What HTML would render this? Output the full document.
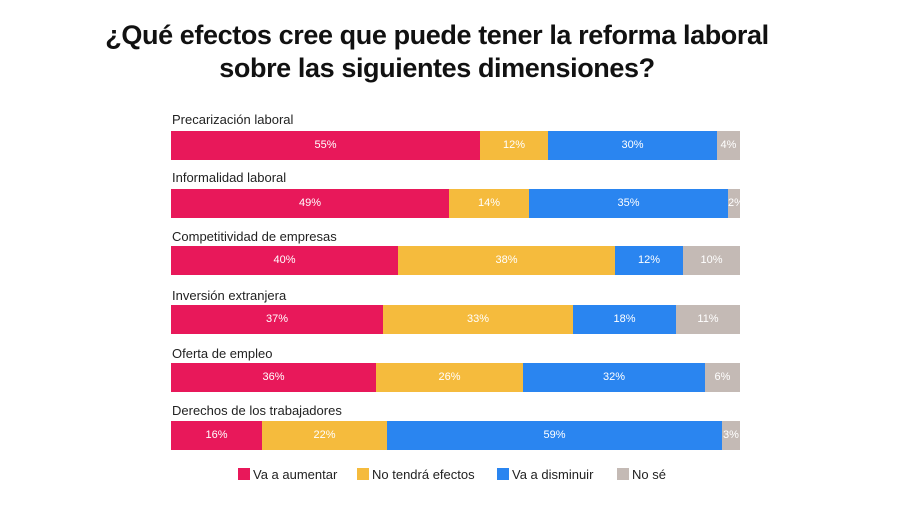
<!DOCTYPE html>
<html><head><meta charset="utf-8"><style>
body{margin:0;width:900px;height:505px;background:#fff;font-family:"Liberation Sans",sans-serif;position:relative;overflow:hidden}
.t{position:absolute;left:0;width:874px;text-align:center;font-weight:bold;font-size:27px;color:#111;letter-spacing:-0.4px}
.l{position:absolute;left:172px;font-size:13px;color:#222}
.b{position:absolute;left:171px;width:569px;height:29px}
.s{position:absolute;top:0;height:29px;color:#fff;font-size:11px;line-height:29px;text-align:center;overflow:hidden;white-space:nowrap}
.p{background:#e8185a}.y{background:#f5bb3d}.u{background:#2a85f0}.g{background:#c4bab5}
.lg{position:absolute;top:467px;font-size:13px;color:#222}
.lg i{display:inline-block;width:12px;height:12px;vertical-align:-1px;margin-right:3px}
</style></head><body>
<div class="t" style="top:20px">¿Qué efectos cree que puede tener la reforma laboral</div>
<div class="t" style="top:53px">sobre las siguientes dimensiones?</div>

<div class="l" style="top:112px">Precarización laboral</div>
<div class="b" style="top:131px">
<div class="s p" style="left:0;width:309px">55%</div><div class="s y" style="left:309px;width:68px">12%</div><div class="s u" style="left:377px;width:169px">30%</div><div class="s g" style="left:546px;width:23px">4%</div></div>

<div class="l" style="top:170px">Informalidad laboral</div>
<div class="b" style="top:189px">
<div class="s p" style="left:0;width:278px">49%</div><div class="s y" style="left:278px;width:80px">14%</div><div class="s u" style="left:358px;width:199px">35%</div><div class="s g" style="left:557px;width:12px">2%</div></div>

<div class="l" style="top:229px">Competitividad de empresas</div>
<div class="b" style="top:246px">
<div class="s p" style="left:0;width:227px">40%</div><div class="s y" style="left:227px;width:217px">38%</div><div class="s u" style="left:444px;width:68px">12%</div><div class="s g" style="left:512px;width:57px">10%</div></div>

<div class="l" style="top:288px">Inversión extranjera</div>
<div class="b" style="top:305px">
<div class="s p" style="left:0;width:212px">37%</div><div class="s y" style="left:212px;width:190px">33%</div><div class="s u" style="left:402px;width:103px">18%</div><div class="s g" style="left:505px;width:64px">11%</div></div>

<div class="l" style="top:346px">Oferta de empleo</div>
<div class="b" style="top:363px">
<div class="s p" style="left:0;width:205px">36%</div><div class="s y" style="left:205px;width:147px">26%</div><div class="s u" style="left:352px;width:182px">32%</div><div class="s g" style="left:534px;width:35px">6%</div></div>

<div class="l" style="top:403px">Derechos de los trabajadores</div>
<div class="b" style="top:421px">
<div class="s p" style="left:0;width:91px">16%</div><div class="s y" style="left:91px;width:125px">22%</div><div class="s u" style="left:216px;width:335px">59%</div><div class="s g" style="left:551px;width:18px">3%</div></div>

<div class="lg" style="left:238px"><i class="p"></i>Va a aumentar</div>
<div class="lg" style="left:357px"><i class="y"></i>No tendrá efectos</div>
<div class="lg" style="left:497px"><i class="u"></i>Va a disminuir</div>
<div class="lg" style="left:617px"><i class="g"></i>No sé</div>
</body></html>
